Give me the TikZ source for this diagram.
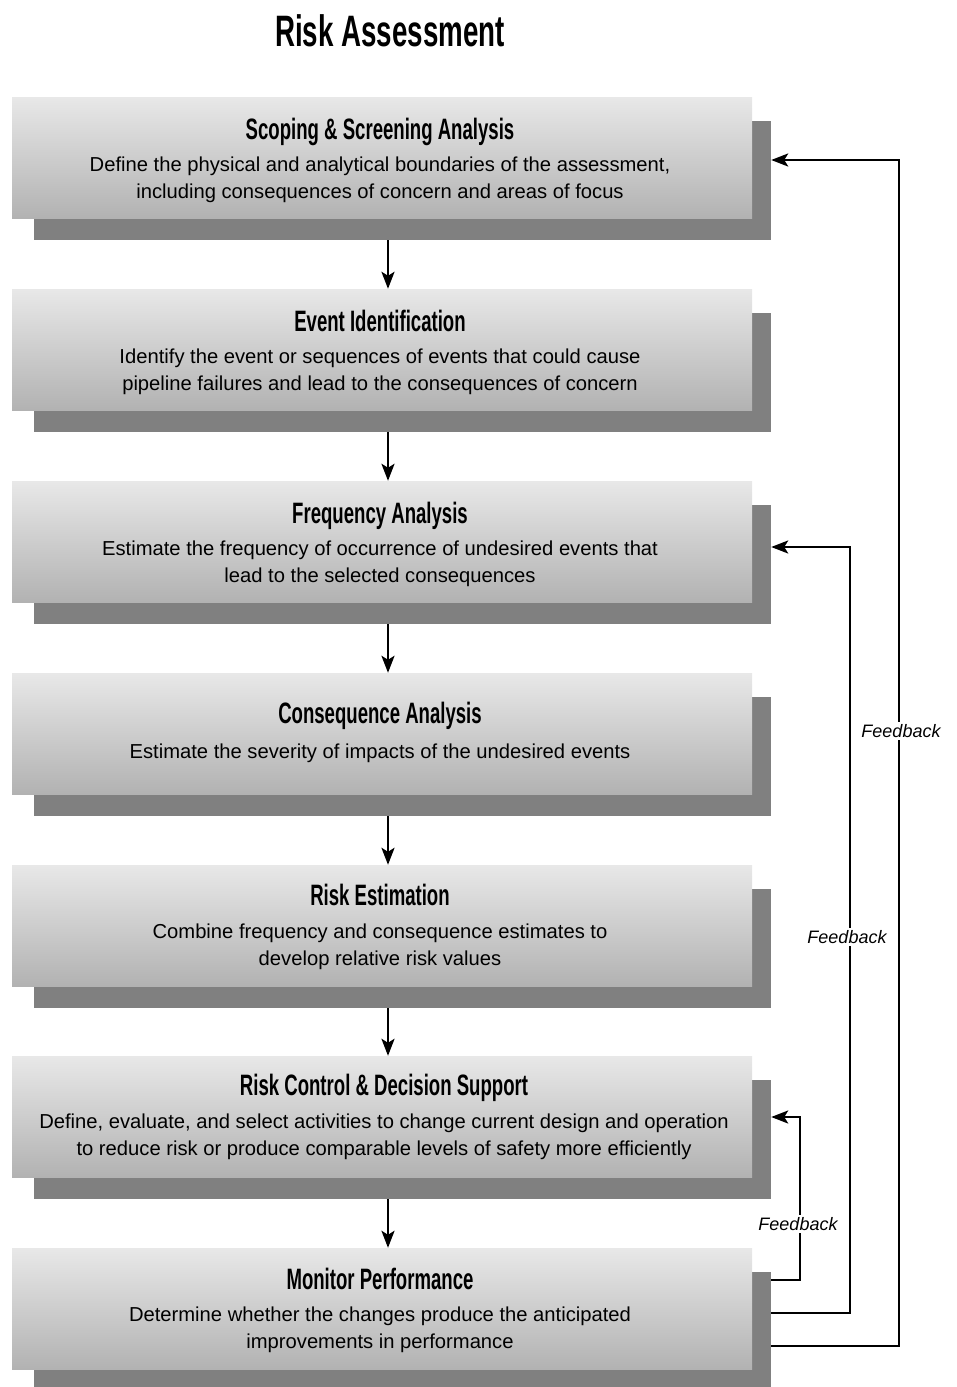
\documentclass[tikz,border=0pt]{standalone}
\usepackage{fontspec}
\setmainfont{Liberation Sans}
\newfontfamily\condfont[FakeStretch=0.63]{Liberation Sans}
\usetikzlibrary{arrows.meta,backgrounds}
\definecolor{boxtop}{RGB}{232,232,232}
\definecolor{boxbot}{RGB}{178,178,178}
\definecolor{shade}{RGB}{128,128,128}
\tikzset{
  frontbox/.style={rectangle, minimum width=740pt, minimum height=121pt, inner sep=0pt,
    top color=boxtop, bottom color=boxbot, draw=none},
  backbox/.style={rectangle, minimum width=737pt, minimum height=119pt, inner sep=0pt,
    fill=shade, draw=none},
  headtext/.style={anchor=base, inner sep=0pt, font=\condfont\bfseries\fontsize{29.5}{34}\selectfont},
  bodytext/.style={anchor=base, inner sep=0pt, font=\fontsize{20.2}{24}\selectfont},
  flowarrow/.style={line width=2.6pt, -{Stealth[length=17pt,width=13pt,inset=4pt]}},
  fbarrow/.style={line width=2.6pt, -{Stealth[length=17pt,width=13pt,inset=4pt]}},
  fblabel/.style={fill=white, inner sep=2pt, font=\itshape\fontsize{18}{21}\selectfont}
}
\begin{document}
\begin{tikzpicture}[x=1pt,y=-1pt]
\useasboundingbox (0,0) rectangle (956,1387);
\clip (0,0) rectangle (956,1387);
\node[anchor=base, inner sep=0pt, font=\condfont\bfseries\fontsize{44}{50}\selectfont] (title) at (390,46) {Risk Assessment};

% front boxes
\node[frontbox] (b1) at (382,157.5) {};
\node[frontbox] (b2) at (382,349.5) {};
\node[frontbox] (b3) at (382,541.5) {};
\node[frontbox] (b4) at (382,733.5) {};
\node[frontbox] (b5) at (382,925.5) {};
\node[frontbox] (b6) at (382,1116.5) {};
\node[frontbox] (b7) at (382,1308.5) {};

% shadows
\begin{scope}[on background layer]
\node[backbox] (s1) at (402.5,180.5) {};
\node[backbox] (s2) at (402.5,372.5) {};
\node[backbox] (s3) at (402.5,564.5) {};
\node[backbox] (s4) at (402.5,756.5) {};
\node[backbox] (s5) at (402.5,948.5) {};
\node[backbox] (s6) at (402.5,1139.5) {};
\node[backbox] (s7) at (402.5,1331.5) {};
\end{scope}

% texts
\node[headtext] (h1) at (380,139) {Scoping \& Screening Analysis};
\node[bodytext] (d1a) at (380,171) {Define the physical and analytical boundaries of the assessment,};
\node[bodytext] (d1b) at (380,198) {including consequences of concern and areas of focus};

\node[headtext] (h2) at (380,331) {Event Identification};
\node[bodytext] (d2a) at (380,363) {Identify the event or sequences of events that could cause};
\node[bodytext] (d2b) at (380,390) {pipeline failures and lead to the consequences of concern};

\node[headtext] (h3) at (380,523) {Frequency Analysis};
\node[bodytext] (d3a) at (380,555) {Estimate the frequency of occurrence of undesired events that};
\node[bodytext] (d3b) at (380,582) {lead to the selected consequences};

\node[headtext] (h4) at (380,723) {Consequence Analysis};
\node[bodytext] (d4a) at (380,758) {Estimate the severity of impacts of the undesired events};

\node[headtext] (h5) at (380,905) {Risk Estimation};
\node[bodytext] (d5a) at (380,938) {Combine frequency and consequence estimates to};
\node[bodytext] (d5b) at (380,965) {develop relative risk values};

\node[headtext] (h6) at (384,1095) {Risk Control \& Decision Support};
\node[bodytext] (d6a) at (384,1128) {Define, evaluate, and select activities to change current design and operation};
\node[bodytext] (d6b) at (384,1155) {to reduce risk or produce comparable levels of safety more efficiently};

\node[headtext] (h7) at (380,1289) {Monitor Performance};
\node[bodytext] (d7a) at (380,1321) {Determine whether the changes produce the anticipated};
\node[bodytext] (d7b) at (380,1348) {improvements in performance};

% flow arrows
\coordinate (ax) at (388,0);
\draw[flowarrow] (s1.south -| ax) -- (b2.north -| ax);
\draw[flowarrow] (s2.south -| ax) -- (b3.north -| ax);
\draw[flowarrow] (s3.south -| ax) -- (b4.north -| ax);
\draw[flowarrow] (s4.south -| ax) -- (b5.north -| ax);
\draw[flowarrow] (s5.south -| ax) -- (b6.north -| ax);
\draw[flowarrow] (s6.south -| ax) -- (b7.north -| ax);

% feedback loops
\coordinate (o1) at (899,1346);
\coordinate (t1) at (899,160);
\coordinate (o2) at (850,1313);
\coordinate (t2) at (850,547);
\coordinate (o3) at (800,1280);
\coordinate (t3) at (800,1117);
\draw[fbarrow] (s7.east |- o1) -- (o1) -- (t1) -- (s1.east |- t1);
\draw[fbarrow] (s7.east |- o2) -- (o2) -- (t2) -- (s3.east |- t2);
\draw[fbarrow] (s7.east |- o3) -- (o3) -- (t3) -- (s6.east |- t3);
\node[fblabel] (f1) at (901,731) {Feedback};
\node[fblabel] (f2) at (847,937) {Feedback};
\node[fblabel] (f3) at (798,1224) {Feedback};
\end{tikzpicture}
\end{document}
